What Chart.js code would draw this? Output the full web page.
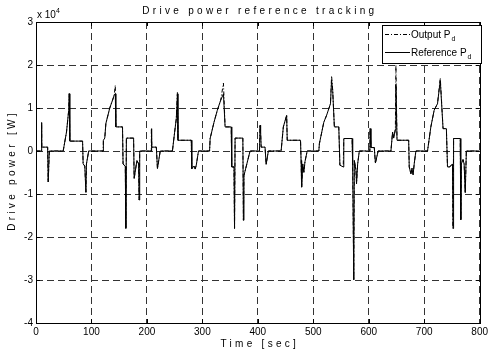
<!DOCTYPE html>
<html>
<head>
<meta charset="utf-8">
<script src="https://cdn.jsdelivr.net/npm/chart.js@4.4.0/dist/chart.umd.min.js"></script>
<style>
  html, body { margin: 0; padding: 0; background: #fff; }
  #wrap { width: 491px; height: 353px; }
</style>
</head>
<body>
<div id="wrap"><canvas id="powerChart" width="491" height="353"></canvas></div>
<script>
// time [sec], one line per drive cycle
const timeSec = [
  0, 10, 10, 10.5, 21, 22, 24, 49, 55, 59, 60, 61, 84, 85, 88, 90, 91, 95, 121, 121.5, 124, 126, 133, 138, 141, 143, 144, 156, 157, 161, 162, 163, 176, 177, 182, 185, 186, 187,
  208, 208, 209, 217, 219, 224, 246, 250, 253, 255, 256, 280, 281, 285, 287, 289, 293, 313, 314, 321, 327, 333, 338, 341, 352, 353, 357, 358, 359, 373, 374, 375, 386,
  403, 404, 405, 406, 413, 415, 419, 442, 446, 452, 453, 477, 478, 479, 481, 483, 485, 489, 510, 511, 519, 524, 531, 533, 535, 538, 546, 548, 554, 555, 570, 571, 573, 574, 577, 578, 580, 583,
  602, 602.5, 604, 610, 612, 617, 640, 643, 645, 648, 649, 651, 672, 673, 676, 678, 680, 682, 685, 706, 712, 718, 724, 729, 734, 740, 742, 746, 751, 752, 753, 765, 766, 767, 770, 772, 774, 776, 800
];

// reference drive power, x 10^4 W
const refPower = [
  0, 0, 0.66, 0.09, 0.09, -0.72, 0, 0, 0.44, 0.95, 1.33, 0.23, 0.23, -0.3, -0.35, -0.96, -0.3, 0, 0, 0.25, 0.3, 0.64, 1.0, 1.18, 1.3, 1.33, 0.56, 0.56, -0.3, -0.36, -1.8, 0.3, 0.3, -0.64, -0.22, -0.3, -1.14, 0,
  0, 0.52, 0.09, 0.09, -0.41, 0, 0, 0.44, 0.75, 1.33, 0.25, 0.25, -0.41, -0.35, -0.42, -0.33, 0, 0, 0.29, 0.67, 0.95, 1.18, 1.33, 0.56, 0.56, -0.37, -0.37, -1.8, 0.3, 0.3, -1.61, -0.57, 0,
  0, 0.6, 0.45, 0.09, 0.09, -0.31, 0, 0, 0.56, 0.83, 0.25, 0.25, -0.22, -0.84, -0.3, -0.5, -0.25, 0, 0, 0.17, 0.67, 0.83, 1.1, 1.65, 1.41, 0.56, 0.56, -0.33, -0.37, 0.29, 0.29, -0.33, -3.0, -0.22, -0.45, -0.76, -0.3, 0,
  0, 0.52, 0.08, 0.08, -0.28, 0, 0, 0.44, 0.3, 0.5, 1.55, 0.25, 0.25, -0.37, -0.53, -0.4, -0.55, -0.3, 0, 0, 0.56, 0.95, 1.1, 1.64, 0.52, 0.52, -0.37, -0.37, -0.3, -1.8, 0.29, 0.29, -1.6, -0.3, -0.2, -0.3, -0.97, 0, 0
];

// output (tracked) drive power, x 10^4 W
const outPower = [
  0, 0, 0.66, 0.09, 0.09, -0.72, 0, 0, 0.44, 0.95, 1.36, 0.23, 0.23, -0.3, -0.35, -0.96, -0.3, 0, 0, 0.25, 0.3, 0.64, 1.0, 1.18, 1.3, 1.53, 0.56, 0.56, -0.3, -0.36, -1.8, 0.3, 0.3, -0.64, -0.22, -0.3, -1.14, 0,
  0, 0.52, 0.09, 0.09, -0.41, 0, 0, 0.44, 0.75, 1.36, 0.25, 0.25, -0.41, -0.35, -0.42, -0.33, 0, 0, 0.29, 0.67, 0.95, 1.18, 1.58, 0.56, 0.56, -0.37, -0.37, -1.8, 0.3, 0.3, -1.61, -0.57, 0,
  0, 0.6, 0.45, 0.09, 0.09, -0.31, 0, 0, 0.56, 0.83, 0.25, 0.25, -0.22, -0.84, -0.3, -0.5, -0.25, 0, 0, 0.17, 0.67, 0.83, 1.1, 1.75, 1.41, 0.56, 0.56, -0.33, -0.37, 0.29, 0.29, -0.33, -3.0, -0.22, -0.45, -0.76, -0.3, 0,
  0, 0.52, 0.08, 0.08, -0.28, 0, 0, 0.44, 0.3, 0.5, 2.0, 0.25, 0.25, -0.37, -0.53, -0.4, -0.55, -0.3, 0, 0, 0.56, 0.95, 1.1, 1.7, 0.52, 0.52, -0.37, -0.37, -0.3, -1.8, 0.29, 0.29, -1.6, -0.3, -0.2, -0.3, -0.97, 0, 0
];

const xTicks = [0, 100, 200, 300, 400, 500, 600, 700, 800];
const yTicks = [-4, -3, -2, -1, 0, 1, 2, 3];

const FONT = "'Liberation Sans', Arial, sans-serif";
const OUT_DASH = [4, 2, 1, 2];

// frame, inward ticks, titles, exponent and the legend box
const decorations = {
  id: 'decorations',
  afterDraw(chart) {
    const { ctx, chartArea: a, scales } = chart;
    ctx.save();
    ctx.strokeStyle = '#000';
    ctx.lineWidth = 1;
    ctx.strokeRect(Math.round(a.left) + 0.5, Math.round(a.top) + 0.5,
      Math.round(a.right - a.left), Math.round(a.bottom - a.top));

    ctx.beginPath();
    xTicks.forEach(t => {
      const x = Math.round(scales.x.getPixelForValue(t)) + 0.5;
      ctx.moveTo(x, a.bottom); ctx.lineTo(x, a.bottom - 4);
      ctx.moveTo(x, a.top); ctx.lineTo(x, a.top + 4);
    });
    yTicks.forEach(v => {
      const y = Math.round(scales.y.getPixelForValue(v)) + 0.5;
      ctx.moveTo(a.left, y); ctx.lineTo(a.left + 4, y);
      ctx.moveTo(a.right, y); ctx.lineTo(a.right - 4, y);
    });
    ctx.stroke();

    ctx.fillStyle = '#000';
    ctx.font = '10px ' + FONT;
    ctx.textBaseline = 'alphabetic';
    ctx.textAlign = 'center';
    ctx.letterSpacing = '3.3px';
    const cx = (a.left + a.right) / 2;
    ctx.fillText('Drive power reference tracking', cx + 2, 14);
    ctx.fillText('Time [sec]', cx + 2, 347);
    ctx.save();
    ctx.translate(15, (a.top + a.bottom) / 2);
    ctx.rotate(-Math.PI / 2);
    ctx.fillText('Drive power [W]', 2, 0);
    ctx.restore();
    ctx.letterSpacing = '0px';

    // axis exponent
    ctx.textAlign = 'left';
    ctx.font = '10px ' + FONT;
    ctx.fillText('x 10', 37, 18);
    ctx.font = '7px ' + FONT;
    ctx.fillText('4', 56, 13);

    // legend
    const lx = 382, ly = 25, lw = 99, lh = 38;
    ctx.fillStyle = '#fff';
    ctx.fillRect(lx, ly, lw, lh);
    ctx.strokeRect(lx + 0.5, ly + 0.5, lw, lh);
    ctx.beginPath();
    ctx.setLineDash(OUT_DASH);
    ctx.moveTo(385, 34.5); ctx.lineTo(410, 34.5);
    ctx.stroke();
    ctx.setLineDash([]);
    ctx.beginPath();
    ctx.moveTo(385, 52.5); ctx.lineTo(410, 52.5);
    ctx.stroke();
    ctx.fillStyle = '#000';
    ctx.font = '10px ' + FONT;
    ctx.fillText('Output P', 411, 38);
    let w = ctx.measureText('Output P').width;
    ctx.font = '7px ' + FONT;
    ctx.fillText('d', 411 + w + 1, 41);
    ctx.font = '10px ' + FONT;
    ctx.fillText('Reference P', 411, 56);
    w = ctx.measureText('Reference P').width;
    ctx.font = '7px ' + FONT;
    ctx.fillText('d', 411 + w + 1, 59);
    ctx.restore();
  }
};

new Chart(document.getElementById('powerChart'), {
  type: 'line',
  data: {
    datasets: [
      {
        label: 'Reference Pd',
        data: timeSec.map((t, i) => ({ x: t, y: refPower[i] })),
        borderColor: '#000',
        borderWidth: 1,
        pointRadius: 0,
        tension: 0,
        fill: false
      },
      {
        label: 'Output Pd',
        data: timeSec.map((t, i) => ({ x: t, y: outPower[i] })),
        borderColor: '#000',
        borderWidth: 1,
        borderDash: OUT_DASH,
        pointRadius: 0,
        tension: 0,
        fill: false
      }
    ]
  },
  options: {
    responsive: false,
    devicePixelRatio: 1,
    animation: false,
    layout: { padding: { top: 22, right: 8, left: 0, bottom: 0 } },
    plugins: {
      legend: { display: false },
      title: { display: false },
      tooltip: { enabled: false }
    },
    scales: {
      x: {
        type: 'linear',
        min: 0,
        max: 800,
        afterFit: s => { s.height = 30; },
        afterBuildTicks: s => { s.ticks = xTicks.map(v => ({ value: v })); },
        ticks: { color: '#000', font: { family: FONT, size: 10 }, padding: 3, maxRotation: 0 },
        grid: { color: '#333', lineWidth: 1, drawTicks: false },
        border: { display: false, dash: [7, 4] }
      },
      y: {
        min: -4,
        max: 3,
        afterFit: s => { s.width = 36; },
        afterBuildTicks: s => { s.ticks = yTicks.map(v => ({ value: v })); },
        ticks: { color: '#000', font: { family: FONT, size: 10 }, padding: 3 },
        grid: { color: '#333', lineWidth: 1, drawTicks: false },
        border: { display: false, dash: [7, 4] }
      }
    }
  },
  plugins: [decorations]
});
</script>
</body>
</html>
